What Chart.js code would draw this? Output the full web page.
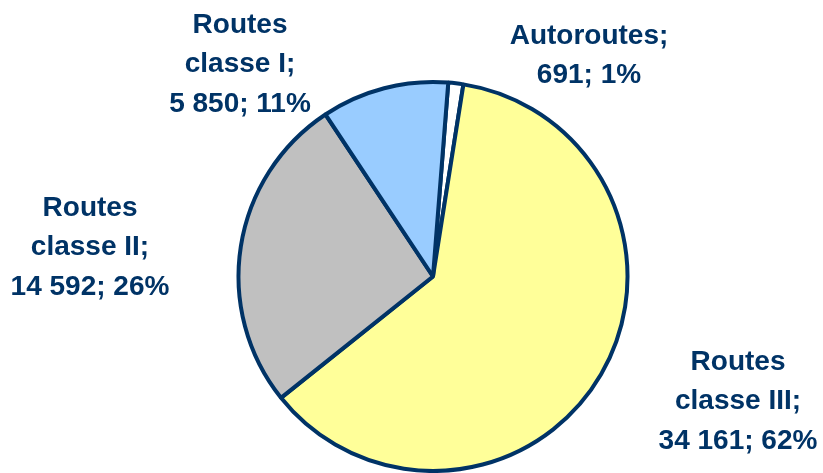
<!DOCTYPE html>
<html>
<head>
<meta charset="utf-8">
<script src="https://cdn.jsdelivr.net/npm/chart.js@4.4.0/dist/chart.umd.min.js"></script>
<style>
    body { margin: 0; background: #fff; }
    #wrap { width: 823px; height: 473px; }
</style>
</head>
<body>
<div id="wrap"><canvas id="roads-chart" width="823" height="473"></canvas></div>
<script>
// data
const categories = ['Autoroutes', 'Routes classe III', 'Routes classe II', 'Routes classe I'];
const labelLines = [['Autoroutes;'], ['Routes', 'classe III;'], ['Routes', 'classe II;'], ['Routes', 'classe I;']];
const lengths = [691, 34161, 14592, 5850];
const sliceColors = ['#FFFFFF', '#FFFF99', '#C0C0C0', '#99CCFF'];

// where each label block is centred (first line y)
const labelPos = [[589, 36], [738, 362], [90, 208], [240, 25]];

const navy = '#003366';

function fmt(n) {
    return String(n).replace(/\B(?=(\d{3})+(?!\d))/g, ' ');
}

const total = lengths.reduce((a, b) => a + b, 0);

const pieLabels = {
    id: 'pieLabels',
    afterDraw(chart) {
        const ctx = chart.ctx;
        ctx.save();
        ctx.fillStyle = navy;
        ctx.font = 'bold 28px "Liberation Sans", Arial, sans-serif';
        ctx.textAlign = 'center';
        ctx.textBaseline = 'middle';
        lengths.forEach(function (v, i) {
            const pct = Math.round(v / total * 100);
            const lines = labelLines[i].concat([fmt(v) + '; ' + pct + '%']);
            lines.forEach(function (line, j) {
                ctx.fillText(line, labelPos[i][0], labelPos[i][1] + j * 39.5);
            });
        });
        ctx.restore();
    }
};

const ctx = document.getElementById('roads-chart').getContext('2d');
new Chart(ctx, {
    type: 'pie',
    data: {
        labels: categories,
        datasets: [{
            data: lengths,
            backgroundColor: sliceColors,
            borderColor: navy,
            borderWidth: 4
        }]
    },
    options: {
        responsive: false,
        animation: false,
        rotation: 4.5,
        layout: {
            padding: { top: 80, bottom: 0, left: 236, right: 193 }
        },
        plugins: {
            legend: { display: false },
            tooltip: { enabled: false }
        }
    },
    plugins: [pieLabels]
});
</script>
</body>
</html>
